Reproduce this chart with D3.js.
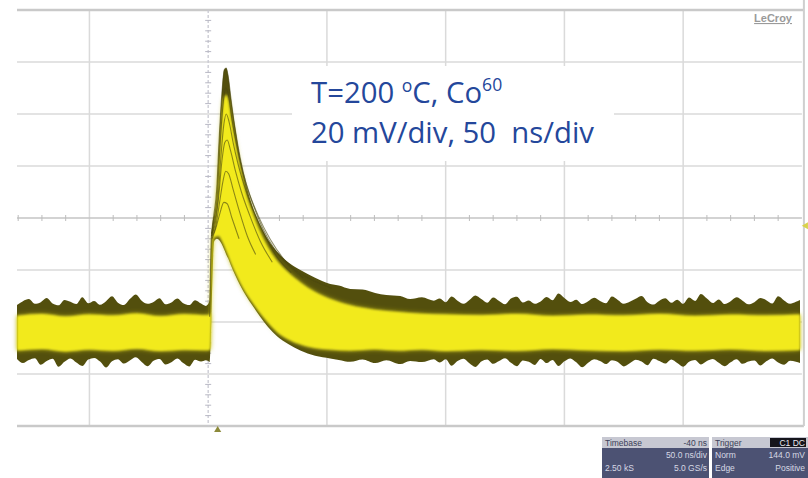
<!DOCTYPE html>
<html>
<head>
<meta charset="utf-8">
<script src="https://cdn.jsdelivr.net/npm/d3@7"></script>
<style>
  html, body { margin: 0; padding: 0; background: #ffffff; }
  svg { display: block; }
</style>
</head>
<body>
<svg id="scope" width="808" height="478"></svg>
<script>
// ---- Screen divisions (50 ns/div, 20 mV/div) ----
const gridTimes = [-50, 0, 50, 100, 150, 200, 250];          // ns
const gridVolts = [-80, -60, -40, -20, 0, 20, 40, 60, 80];    // mV

// ---- Persistence envelope of all acquired traces (outer, dark edge) ----
const envTimes = [
  -80.5, -78, -75.5, -73, -70.5, -68, -65.5, -63, -60.5, -58, -55.5, -53, -50.5, -48, -45.5, -43, -40.5,
  -38, -35.5, -33, -30.5, -28, -25.5, -23, -20.5, -18, -15.5, -13, -10.5, -8, -5.5, -3, -1, 0,
  0.6, 1.3, 1.9, 2.5, 3.6, 4.6, 5.7, 6.7, 7.6, 8.4, 9.7, 11.4, 13.5, 16, 18.5, 21.9, 25.3, 29,
  33.7, 38.8, 45, 51.4, 55, 59.8, 65, 70.3, 75, 80.9, 85, 90, 95,
  97.5, 100, 102.5, 105, 107.5, 110, 112.5, 115, 117.5, 120,
  122.5, 125, 127.5, 130, 132.5, 135, 137.5, 140, 142.5, 145,
  147.5, 150, 152.5, 155, 157.5, 160, 162.5, 165, 167.5, 170,
  172.5, 175, 177.5, 180, 182.5, 185, 187.5, 190, 192.5, 195,
  197.5, 200, 202.5, 205, 207.5, 210, 212.5, 215, 217.5, 220,
  222.5, 225, 227.5, 230, 232.5, 235, 237.5, 240, 242.5, 245, 247.5, 249.2
];
const envUpper = [
  -33.5, -32.0, -31.2, -33.0, -32.4, -30.8, -32.9, -33.6, -31.5, -32.2, -33.1, -30.5, -32.8, -31.9, -33.4, -32.0, -30.1,
  -32.6, -33.5, -31.2, -29.4, -31.8, -33.0, -32.3, -30.9, -33.2, -32.5, -31.0, -32.8, -33.5, -31.6, -32.9, -33.8, -33.0,
  -31.5, -8.5, -1.5, 1.2, 10.8, 30, 47.3, 56.9, 57.7, 55, 45.4, 34.6, 23, 12.7, 5, -2.7, -8.5, -13,
  -17, -20, -23, -25.4, -26.0, -27.3, -27.5, -28.8, -29.6, -30.0, -31.2, -30.5, -31.8,
  -31.0, -32.4, -30.2, -31.8, -33.0, -31.5, -29.8, -31.2, -32.6, -30.6,
  -31.9, -33.2, -31.0, -30.3, -32.5, -31.7, -33.0, -32.1, -30.4, -31.6,
  -29.0, -30.8, -32.3, -31.4, -33.1, -32.0, -30.7, -31.9, -32.8, -30.2,
  -31.5, -33.0, -32.2, -31.1, -30.0, -32.4, -33.3, -31.8, -30.9, -32.6,
  -31.4, -33.0, -30.6, -31.9, -29.2, -31.0, -32.7, -31.3, -33.1, -32.0,
  -30.5, -31.8, -33.2, -32.4, -30.8, -31.6, -32.9, -30.1, -31.7, -33.0, -32.2, -31.5
];
const envLower = [
  -54.2, -55.8, -54.6, -53.9, -56.4, -55.0, -54.1, -57.2, -55.3, -54.0, -55.6, -56.9, -54.4, -53.8, -55.2, -57.5, -55.1,
  -54.3, -56.0, -54.8, -53.6, -55.4, -57.0, -54.9, -54.2, -56.3, -55.5, -54.0, -55.8, -57.1, -54.5, -55.2, -54.7, -55.0,
  -55.4, -40, -20, -9, -8, -8.5, -10, -12, -14, -15.5, -18.5, -22, -26, -30, -33.5, -38, -42, -45.5,
  -48.5, -51, -53, -54, -54.6, -55.3, -54.4, -55.8, -54.7, -56.2, -55.0, -55.4, -54.3,
  -55.6, -54.3, -56.8, -55.0, -54.1, -55.9, -57.3, -55.2, -54.4, -56.1,
  -55.0, -53.9, -55.7, -57.0, -54.8, -55.3, -56.5, -54.2, -55.8, -54.6,
  -56.9, -55.1, -54.0, -55.5, -57.4, -55.7, -54.3, -55.0, -56.2, -54.7,
  -55.4, -57.1, -55.9, -54.5, -55.2, -56.6, -54.1, -55.0, -56.0, -54.4,
  -55.8, -57.2, -55.3, -54.6, -56.3, -55.0, -54.2, -55.7, -57.0, -55.5,
  -54.3, -56.1, -55.2, -54.8, -56.7, -55.1, -54.0, -55.6, -56.4, -54.9, -55.3, -55.8
];

// ---- Dense (bright) core of the persistence display ----
const coreTimes = [
  -80.5, -70, -60, -50, -40, -30, -20, -10, 0, 0.8, 1.5, 2.5, 4.6, 5.7, 6.7, 7.6, 8.4, 9.7, 11.4, 13.5,
  16, 18.5, 21.9, 25.3, 29, 33.7, 38.8, 45, 51.4, 59.8, 70, 80, 90, 100, 115, 130, 145, 160, 175, 190,
  205, 220, 235, 249.2
];
const coreUpper = [
  -37.6, -36.9, -37.9, -37.1, -37.5, -36.7, -37.8, -37.0, -37.4, -36.5, -12, -3.5, 22, 37, 46, 47.3, 45.5, 38, 29, 19,
  9, 2.3, -5.5, -11.5, -16.5, -21.0, -24.8, -28.5, -31.2, -33.6, -35.3, -36.2, -36.8, -37.1, -37.4, -36.9, -37.7, -37.2, -37.5, -36.9,
  -37.7, -37.2, -37.5, -37.1
];
const coreLower = [
  -51.0, -50.4, -51.3, -50.6, -51.1, -50.3, -51.2, -50.7, -50.9, -50.6, -30, -7.5, -6.8, -8.5, -10.5, -12.5, -14.2, -17.3, -20.8, -24.8,
  -28.8, -32.2, -36.5, -40.3, -43.8, -46.6, -48.6, -50.0, -50.6, -51.0, -50.5, -51.0, -50.6, -51.2, -50.7, -51.1, -50.4, -50.9, -51.2, -50.6,
  -51.0, -50.5, -51.1, -50.8
];

// ---- Individual pulses that stand out in the persistence (time ns, mV) ----
const pulseA = [[0.6,-38],[1.3,-8],[2.2,0],[3.6,11],[4.6,30],[5.7,47],[6.8,57],[7.6,57.7],[8.5,54],[9.7,45],[11.4,34],[13.5,23],[16,13],[19,5],[23,-4],[28,-12],[34,-18],[42,-23],[52,-27]];
const pulseB = [[1.4,-6],[2.4,-1],[3.8,8],[5,28],[6.3,44],[7.4,50],[8.6,47],[10,38],[12,28],[14.5,18],[17.5,9],[21,1],[26,-8],[32,-16],[40,-23]];
const pulseC = [[1.4,-7],[2.6,-2],[4,6],[5.4,24],[6.6,36],[7.6,40],[8.8,37],[10.5,29],[12.5,21],[15,13],[18.5,4],[23,-5],[29,-15],[35,-21]];
const pulseD = [[1.5,-6],[2.8,-3],[4.4,8],[5.8,22],[7,29],[8,30],[9.4,26],[11.5,18],[14,10],[17.5,1],[22,-9],[27,-17]];
const pulseE = [[1.5,-7],[3,-4],[4.8,6],[6.2,14],[7.4,18],[8.6,17],[10.5,11],[13,3],[16.5,-7],[20,-14]];
const pulseF = [[1.6,-8],[3.2,-4],[5,2],[6.6,6],[8,5.5],[10,0],[13,-8]];

// ---- Annotation and status panel text ----
const noteLine2 = "20 mV/div, 50  ns/div";
const panelRows = [
  ["Timebase", "-40 ns", "Trigger", "C1 DC"],
  ["", "50.0 ns/div", "Norm", "144.0 mV"],
  ["2.50 kS", "5.0 GS/s", "Edge", "Positive"]
];

// ================= drawing =================
const svg = d3.select("#scope");
const x = d3.scaleLinear().domain([-80.5, 249.2]).range([17, 800]);
const y = d3.scaleLinear().domain([-80, 80]).range([426, 10]);

const defs = svg.append("defs");
defs.append("filter").attr("id", "halo").attr("x", "-5%").attr("y", "-30%").attr("width", "110%").attr("height", "160%")
  .append("feGaussianBlur").attr("stdDeviation", 2.8);
defs.append("filter").attr("id", "soft")
  .append("feGaussianBlur").attr("stdDeviation", 0.9);
defs.append("filter").attr("id", "softer")
  .append("feGaussianBlur").attr("stdDeviation", 0.7);

// graticule
const grid = svg.append("g").attr("class", "grid");
grid.selectAll("line.v").data(gridTimes.filter(t => t !== 0 && t !== 250)).join("line")
  .attr("class", "v")
  .attr("x1", d => x(d)).attr("x2", d => x(d))
  .attr("y1", y(80)).attr("y2", y(-80))
  .attr("stroke", "#dadada").attr("stroke-width", 1.5);
grid.selectAll("line.h").data(gridVolts.filter(v => v !== 0 && Math.abs(v) !== 80)).join("line")
  .attr("class", "h")
  .attr("x1", x(-80.5)).attr("x2", x(250))
  .attr("y1", d => y(d)).attr("y2", d => y(d))
  .attr("stroke", "#dadada").attr("stroke-width", 1.5);
// outer frame
grid.selectAll("line.frame").data([80, -80]).join("line")
  .attr("class", "frame")
  .attr("x1", x(-80.5)).attr("x2", x(250) + 2)
  .attr("y1", d => y(d)).attr("y2", d => y(d))
  .attr("stroke", "#c9c9c9").attr("stroke-width", 2.5);
grid.append("line")
  .attr("x1", x(250) + 2).attr("x2", x(250) + 2)
  .attr("y1", y(80) - 10).attr("y2", y(-80))
  .attr("stroke", "#cfcfcf").attr("stroke-width", 2);

// centre axes with minor ticks
grid.append("line")
  .attr("x1", x(-80.5)).attr("x2", x(250))
  .attr("y1", y(0)).attr("y2", y(0))
  .attr("stroke", "#c4c4c4").attr("stroke-width", 1.5);
grid.append("line")
  .attr("x1", x(0)).attr("x2", x(0))
  .attr("y1", y(80)).attr("y2", y(-80))
  .attr("stroke", "#c9c9d2").attr("stroke-width", 1.3).attr("stroke-dasharray", "3,2");
const minorT = d3.range(-80, 250, 10).filter(t => t % 50 !== 0);
grid.selectAll("line.tx").data(minorT).join("line")
  .attr("class", "tx")
  .attr("x1", d => x(d)).attr("x2", d => x(d))
  .attr("y1", y(0) - 3).attr("y2", y(0) + 3)
  .attr("stroke", "#bdbdbd").attr("stroke-width", 1);
const minorV = d3.range(-80, 81, 4).filter(v => v % 20 !== 0);
grid.selectAll("line.ty").data(minorV).join("line")
  .attr("class", "ty")
  .attr("x1", x(0) - 3).attr("x2", x(0) + 3)
  .attr("y1", d => y(d)).attr("y2", d => y(d))
  .attr("stroke", "#b8b8c4").attr("stroke-width", 1);

// annotation box (white, hides graticule behind it)
svg.append("rect")
  .attr("x", 292).attr("y", 66).attr("width", 322).attr("height", 95)
  .attr("fill", "#ffffff");

// persistence traces
const envData = envTimes.map((t, i) => ({ t, hi: envUpper[i], lo: envLower[i] }));
const coreData = coreTimes.map((t, i) => ({ t, hi: coreUpper[i], lo: coreLower[i] }));
const band = d3.area().x(d => x(d.t)).y0(d => y(d.lo)).y1(d => y(d.hi)).curve(d3.curveMonotoneX);

const traces = svg.append("g").attr("class", "traces");
traces.append("path").datum(envData)
  .attr("d", band)
  .attr("fill", "#524f0f")
  .attr("filter", "url(#softer)");
traces.append("path").datum(coreData)
  .attr("d", band)
  .attr("fill", "#b9b21c")
  .attr("filter", "url(#halo)");
traces.append("path").datum(coreData)
  .attr("d", band)
  .attr("fill", "#f2ea1f")
  .attr("filter", "url(#soft)");

const pulseLine = d3.line().x(d => x(d[0])).y(d => y(d[1])).curve(d3.curveMonotoneX);
traces.selectAll("path.pulse").data([pulseA, pulseB, pulseC, pulseD, pulseE, pulseF]).join("path")
  .attr("class", "pulse")
  .attr("d", pulseLine)
  .attr("fill", "none")
  .attr("stroke", "#4a4710")
  .attr("stroke-width", 1.1)
  .attr("opacity", 0.6)
  .attr("filter", "url(#softer)");

// trigger markers
svg.append("path")
  .attr("d", d3.symbol(d3.symbolTriangle, 22)())
  .attr("transform", `translate(${x(4)},${y(-80) + 4})`)
  .attr("fill", "#8c8a3a");
svg.append("path")
  .attr("d", d3.symbol(d3.symbolTriangle, 22)())
  .attr("transform", `translate(${x(250) + 4},${y(-3)}) rotate(-90)`)
  .attr("fill", "#d9d24a");

// LeCroy badge
svg.append("text")
  .attr("x", 792).attr("y", 22)
  .attr("text-anchor", "end")
  .attr("font-family", "Liberation Sans, Arial, sans-serif")
  .attr("font-size", 11).attr("font-weight", 700)
  .attr("fill", "#9a9a9a")
  .attr("text-decoration", "underline")
  .text("LeCroy");

// annotation text
const noteFont = "'Open Sans', 'Noto Sans', sans-serif";
const note2 = svg.append("text")
  .attr("x", 311).attr("y", 143)
  .attr("font-family", noteFont).attr("font-size", 26)
  .attr("fill", "#24479b")
  .style("white-space", "pre")
  .text(noteLine2);
// size the annotation so the second line spans the box
const targetW = 283;
const fs = 26 * targetW / note2.node().getComputedTextLength();
note2.attr("font-size", fs);

const note1 = svg.append("text")
  .attr("x", 311).attr("y", 103)
  .attr("font-family", noteFont).attr("font-size", fs)
  .attr("fill", "#24479b");
note1.append("tspan").text("T=200 ");
note1.append("tspan").text("o").attr("font-size", fs * 0.6).attr("dy", -fs * 0.36);
note1.append("tspan").text("C, Co").attr("dy", fs * 0.36);
note1.append("tspan").text("60").attr("font-size", fs * 0.6).attr("dy", -fs * 0.4);

// status panel
const panel = svg.append("g").attr("class", "panel")
  .attr("font-family", "Liberation Sans, Arial, sans-serif").attr("font-size", 8.5);
const cells = [{ x0: 602, x1: 709 }, { x0: 712, x1: 808 }];
cells.forEach(c => {
  panel.append("rect").attr("x", c.x0).attr("y", 437).attr("width", c.x1 - c.x0).attr("height", 11)
    .attr("fill", "#c7c8d2");
  panel.append("rect").attr("x", c.x0).attr("y", 448).attr("width", c.x1 - c.x0).attr("height", 30)
    .attr("fill", "#4c5273");
});
panel.append("rect").attr("x", 770).attr("y", 438).attr("width", 36).attr("height", 9).attr("fill", "#15151c");
panelRows.forEach((row, ri) => {
  const yy = 445.5 + ri * 12.5;
  const dark = ri === 0;
  panel.append("text").attr("x", 605).attr("y", yy).attr("fill", dark ? "#3b3f58" : "#d6d8e4").text(row[0]);
  panel.append("text").attr("x", 707).attr("y", yy).attr("text-anchor", "end").attr("fill", dark ? "#3b3f58" : "#d6d8e4").text(row[1]);
  panel.append("text").attr("x", 715).attr("y", yy).attr("fill", dark ? "#3b3f58" : "#d6d8e4").text(row[2]);
  panel.append("text").attr("x", 805).attr("y", yy).attr("text-anchor", "end").attr("fill", dark ? "#e8e8ee" : "#d6d8e4").text(row[3]);
});
</script>
</body>
</html>
